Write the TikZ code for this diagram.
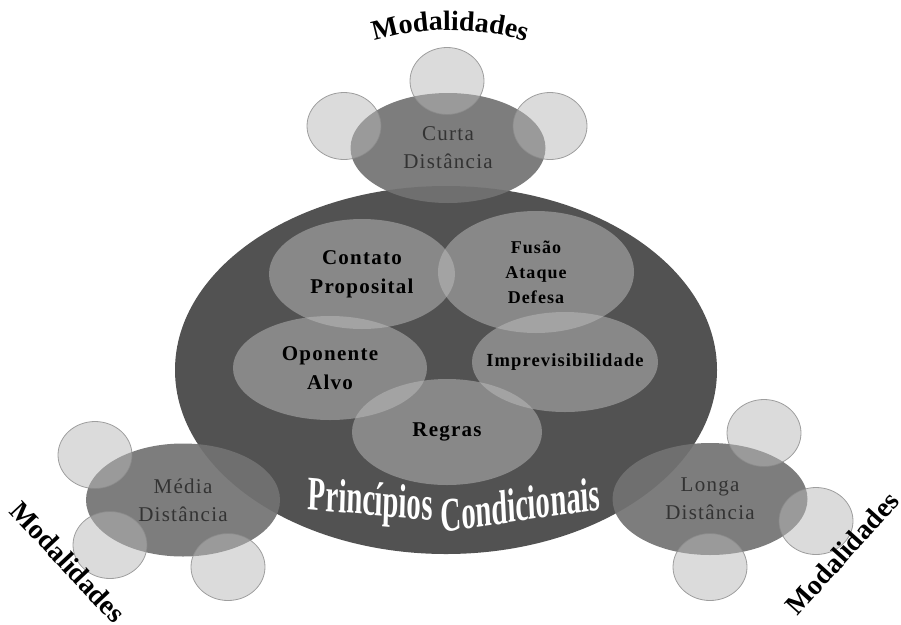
\documentclass[tikz,border=0pt]{standalone}
\usepackage{fontspec}
\setmainfont{Liberation Serif}
\newfontfamily\spacedfont[LetterSpace=6]{Liberation Serif}
\usetikzlibrary{shapes.geometric,decorations.text}
\definecolor{maindark}{HTML}{525252}
\definecolor{modgray}{HTML}{727272}
\definecolor{innergray}{HTML}{BEBEBE}
\definecolor{circfill}{HTML}{B8B8B8}
\definecolor{circline}{HTML}{8A8A8A}
\definecolor{modtext}{HTML}{333333}
\begin{document}
\begin{tikzpicture}[x=1pt,y=-1pt,
  mainell/.style={ellipse, fill=maindark, inner sep=0pt},
  modell/.style={ellipse, fill=modgray, fill opacity=0.92, text opacity=1, inner sep=0pt,
     font=\spacedfont\fontsize{21}{28}\selectfont, text=modtext, align=center},
  innerell/.style={ellipse, fill=innergray, fill opacity=0.5, text opacity=1, inner sep=0pt,
     font=\spacedfont\bfseries\fontsize{21}{29}\selectfont, text=black, align=center},
  smallcirc/.style={ellipse, fill=circfill, fill opacity=0.5, draw=circline, draw opacity=0.8,
     line width=0.8pt, inner sep=0pt, minimum width=74, minimum height=67},
  modlabel/.style={font=\bfseries\fontsize{28}{28}\selectfont, text=black},
  titletext/.style={font=\bfseries\fontsize{48}{48}\selectfont, text=white, inner sep=0pt, anchor=base, xscale=0.6}
]
\useasboundingbox (0,0) rectangle (901,624);

% main ellipse
\node[mainell, minimum width=542, minimum height=368] (main) at (446,370) {};

% mode ellipses
\node[modell, minimum width=195, minimum height=110] (curta) at (448,148) {Curta\\Distância};
\node[modell, minimum width=194, minimum height=113] (media) at (183,500) {Média\\Distância};
\node[modell, minimum width=195, minimum height=112] (longa) at (710,499) {Longa\\Distância};

% inner ellipses
\node[innerell, minimum width=186, minimum height=110] (contato) at (362,274) {Contato\\Proposital};
\node[innerell, minimum width=196, minimum height=122, font=\spacedfont\bfseries\fontsize{18}{25}\selectfont] (fusao) at (536,272) {Fusão\\Ataque\\Defesa};
\node[innerell, minimum width=194, minimum height=104] (oponente) at (330,368) {Oponente\\Alvo};
\node[innerell, minimum width=186, minimum height=100, font=\spacedfont\bfseries\fontsize{18.5}{20}\selectfont] (imprev) at (565,362) {\makebox[0pt]{Imprevisibilidade}};
\node[innerell, minimum width=190, minimum height=106] (regras) at (447,432) {Regras};

% title
\node[titletext, rotate=-3] (tit1) at (370,515) {Princípios};
\node[titletext, rotate=5] (tit2) at (521,521) {Condicionais};

% small circles: top
\node[smallcirc] (ct1) at (447,81) {};
\node[smallcirc] (ct2) at (344,126) {};
\node[smallcirc] (ct3) at (550,126) {};
% small circles: left
\node[smallcirc] (cl1) at (95,455) {};
\node[smallcirc] (cl2) at (110,545) {};
\node[smallcirc] (cl3) at (228,567) {};
% small circles: right
\node[smallcirc] (cr1) at (764,433) {};
\node[smallcirc] (cr2) at (816,521) {};
\node[smallcirc] (cr3) at (710,567) {};

% Modalidades labels
\coordinate (mtA) at (355,48);
\coordinate (mtB) at (545,49);
\path[decorate, decoration={text along path, text align=center,
   text={|\bfseries\fontsize{28}{28}\selectfont|Modalidades}}]
   (mtA) .. controls (410,24) and (490,24) .. (mtB);
\node[modlabel, rotate=-47] (modL) at (68,562) {Modalidades};
\node[modlabel, rotate=48] (modR) at (842,553) {Modalidades};
\end{tikzpicture}
\end{document}
